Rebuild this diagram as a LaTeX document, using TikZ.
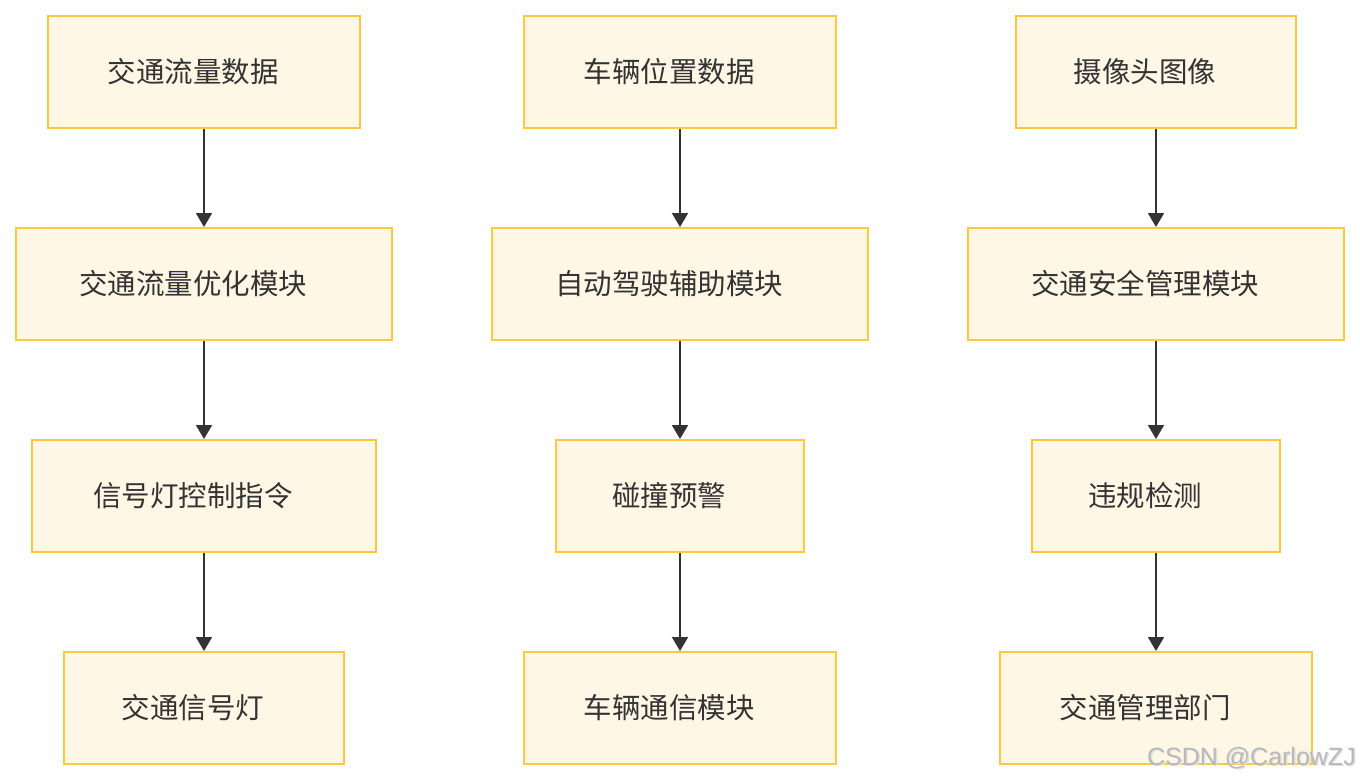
\documentclass[tikz,border=0pt]{standalone}
\usepackage{fontspec}
\newfontfamily\cjk{Noto Sans CJK SC}
\setmainfont{Liberation Sans}
\usetikzlibrary{arrows.meta}
\definecolor{boxfill}{HTML}{FFF7E6}
\definecolor{boxline}{HTML}{FFC93F}
\definecolor{ink}{HTML}{333333}
\tikzset{
  box/.style={draw=boxline, fill=boxfill, line width=2pt, inner sep=0pt,
    minimum height=112pt, text=ink, font=\cjk\fontsize{28.5pt}{34pt}\selectfont,
    execute at end node={\hspace*{22pt}}},
  flow/.style={draw=ink, line width=2pt, -{Triangle[length=14pt,width=16pt]}},
}
\begin{document}
\begin{tikzpicture}[x=1pt,y=-1pt]
\useasboundingbox (0,0) rectangle (1360,780);
% column 1
\node[box, minimum width=312pt] (a1) at (204,72) {交通流量数据};
\node[box, minimum width=376pt] (a2) at (204,284) {交通流量优化模块};
\node[box, minimum width=344pt] (a3) at (204,496) {信号灯控制指令};
\node[box, minimum width=280pt] (a4) at (204,708) {交通信号灯};
% column 2
\node[box, minimum width=312pt] (b1) at (680,72) {车辆位置数据};
\node[box, minimum width=376pt] (b2) at (680,284) {自动驾驶辅助模块};
\node[box, minimum width=248pt] (b3) at (680,496) {碰撞预警};
\node[box, minimum width=312pt] (b4) at (680,708) {车辆通信模块};
% column 3
\node[box, minimum width=280pt] (c1) at (1156,72) {摄像头图像};
\node[box, minimum width=376pt] (c2) at (1156,284) {交通安全管理模块};
\node[box, minimum width=248pt] (c3) at (1156,496) {违规检测};
\node[box, minimum width=312pt] (c4) at (1156,708) {交通管理部门};
% arrows
\foreach \c in {a,b,c}{
  \draw[flow] (\c1.south) -- (\c2.north);
  \draw[flow] (\c2.south) -- (\c3.north);
  \draw[flow] (\c3.south) -- (\c4.north);
}
% watermark
\node[anchor=east, inner sep=0pt, text=black!12, font=\fontsize{25pt}{29pt}\selectfont] (wms) at (1357.5,759.5) {CSDN @CarlowZJ};
\node[anchor=east, inner sep=0pt, text=black!28, font=\fontsize{25pt}{29pt}\selectfont] (wm) at (1356,758) {CSDN @CarlowZJ};
\end{tikzpicture}
\end{document}
